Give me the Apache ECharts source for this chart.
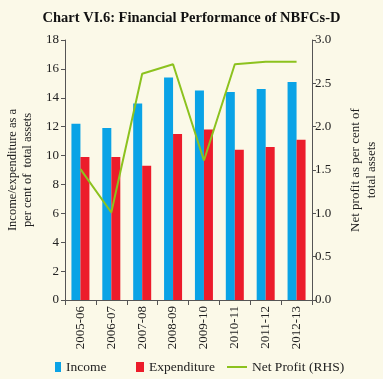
<!DOCTYPE html>
<html>
<head>
<meta charset="utf-8">
<script src="https://cdn.jsdelivr.net/npm/echarts@6/dist/echarts.min.js"></script>
<style>
html,body{margin:0;padding:0;background:#FBF9E8;}
#chart{width:383px;height:379px;}
</style>
</head>
<body>
<div id="chart"></div>
<script>
const categories = ['2005-06','2006-07','2007-08','2008-09','2009-10','2010-11','2011-12','2012-13'];
const income = [12.2, 11.9, 13.6, 15.4, 14.5, 14.4, 14.6, 15.1];
const expenditure = [9.9, 9.9, 9.3, 11.5, 11.8, 10.4, 10.6, 11.1];
const netProfit = [1.51, 1.01, 2.61, 2.72, 1.61, 2.72, 2.75, 2.75];
const leftTicks = {min: 0, max: 18, interval: 2};
const rightTicks = {min: 0, max: 3, interval: 0.5};

const FONT = '"Liberation Serif", "DejaVu Serif", serif';
const TXT = '#222';
const AXIS = '#555';

const chart = echarts.init(document.getElementById('chart'));
chart.setOption({
  backgroundColor: '#FBF9E8',
  animation: false,
  title: {
    text: 'Chart VI.6: Financial Performance of NBFCs-D',
    left: 'center', top: 6,
    textStyle: {fontFamily: FONT, fontWeight: 'bold', fontSize: 14.5, color: '#111'}
  },
  legend: [
    {data: [{name: 'Income', icon: 'rect'}], left: 50, top: 355, itemWidth: 6, itemHeight: 10, itemGap: 4,
     textStyle: {fontFamily: FONT, fontSize: 13.5, color: TXT}},
    {data: [{name: 'Expenditure', icon: 'rect'}], left: 131, top: 355, itemWidth: 8, itemHeight: 10,
     textStyle: {fontFamily: FONT, fontSize: 13.5, color: TXT}},
    {data: [{name: 'Net Profit (RHS)', icon: 'rect'}], left: 222, top: 355, itemWidth: 20, itemHeight: 2,
     textStyle: {fontFamily: FONT, fontSize: 13.5, color: TXT}}
  ],
  grid: {left: 65, right: 71, top: 40, bottom: 79, containLabel: false, outerBoundsMode: 'none'},
  xAxis: {
    type: 'category',
    data: categories,
    axisLine: {lineStyle: {color: AXIS, width: 1}},
    axisTick: {show: true, length: 5, lineStyle: {color: AXIS}},
    axisLabel: {rotate: 90, fontFamily: FONT, fontSize: 13, color: TXT, margin: 6}
  },
  yAxis: [
    {
      type: 'value', min: leftTicks.min, max: leftTicks.max, interval: leftTicks.interval,
      name: 'Income/expenditure as a\nper cent of  total assets',
      nameLocation: 'middle', nameGap: 30, nameRotate: 90,
      nameTextStyle: {fontFamily: FONT, fontSize: 12.5, color: TXT, lineHeight: 15},
      axisLine: {show: true, lineStyle: {color: AXIS}},
      axisTick: {show: true, length: 4, lineStyle: {color: AXIS}},
      splitLine: {show: false},
      axisLabel: {fontFamily: FONT, fontSize: 13, color: TXT, margin: 6}
    },
    {
      type: 'value', min: rightTicks.min, max: rightTicks.max, interval: rightTicks.interval,
      name: 'Net profit as per cent of\ntotal assets',
      nameLocation: 'middle', nameGap: 36, nameRotate: 90,
      nameTextStyle: {fontFamily: FONT, fontSize: 13, color: TXT, lineHeight: 16},
      position: 'right',
      axisLine: {show: true, lineStyle: {color: AXIS}},
      axisTick: {show: true, length: 4, lineStyle: {color: AXIS}},
      splitLine: {show: false},
      axisLabel: {fontFamily: FONT, fontSize: 13, color: TXT, margin: 3,
                  formatter: v => v.toFixed(1)}
    }
  ],
  series: [
    {name: 'Income', type: 'bar', data: income, barWidth: 9, barGap: '0%',
     itemStyle: {color: '#0AA3E6'}},
    {name: 'Expenditure', type: 'bar', data: expenditure, barWidth: 9,
     itemStyle: {color: '#EC1C2A'}},
    {name: 'Net Profit (RHS)', type: 'line', yAxisIndex: 1, data: netProfit,
     symbol: 'none', lineStyle: {color: '#8CC21E', width: 2}, itemStyle: {color: '#8CC21E'}}
  ]
});
</script>
</body>
</html>
